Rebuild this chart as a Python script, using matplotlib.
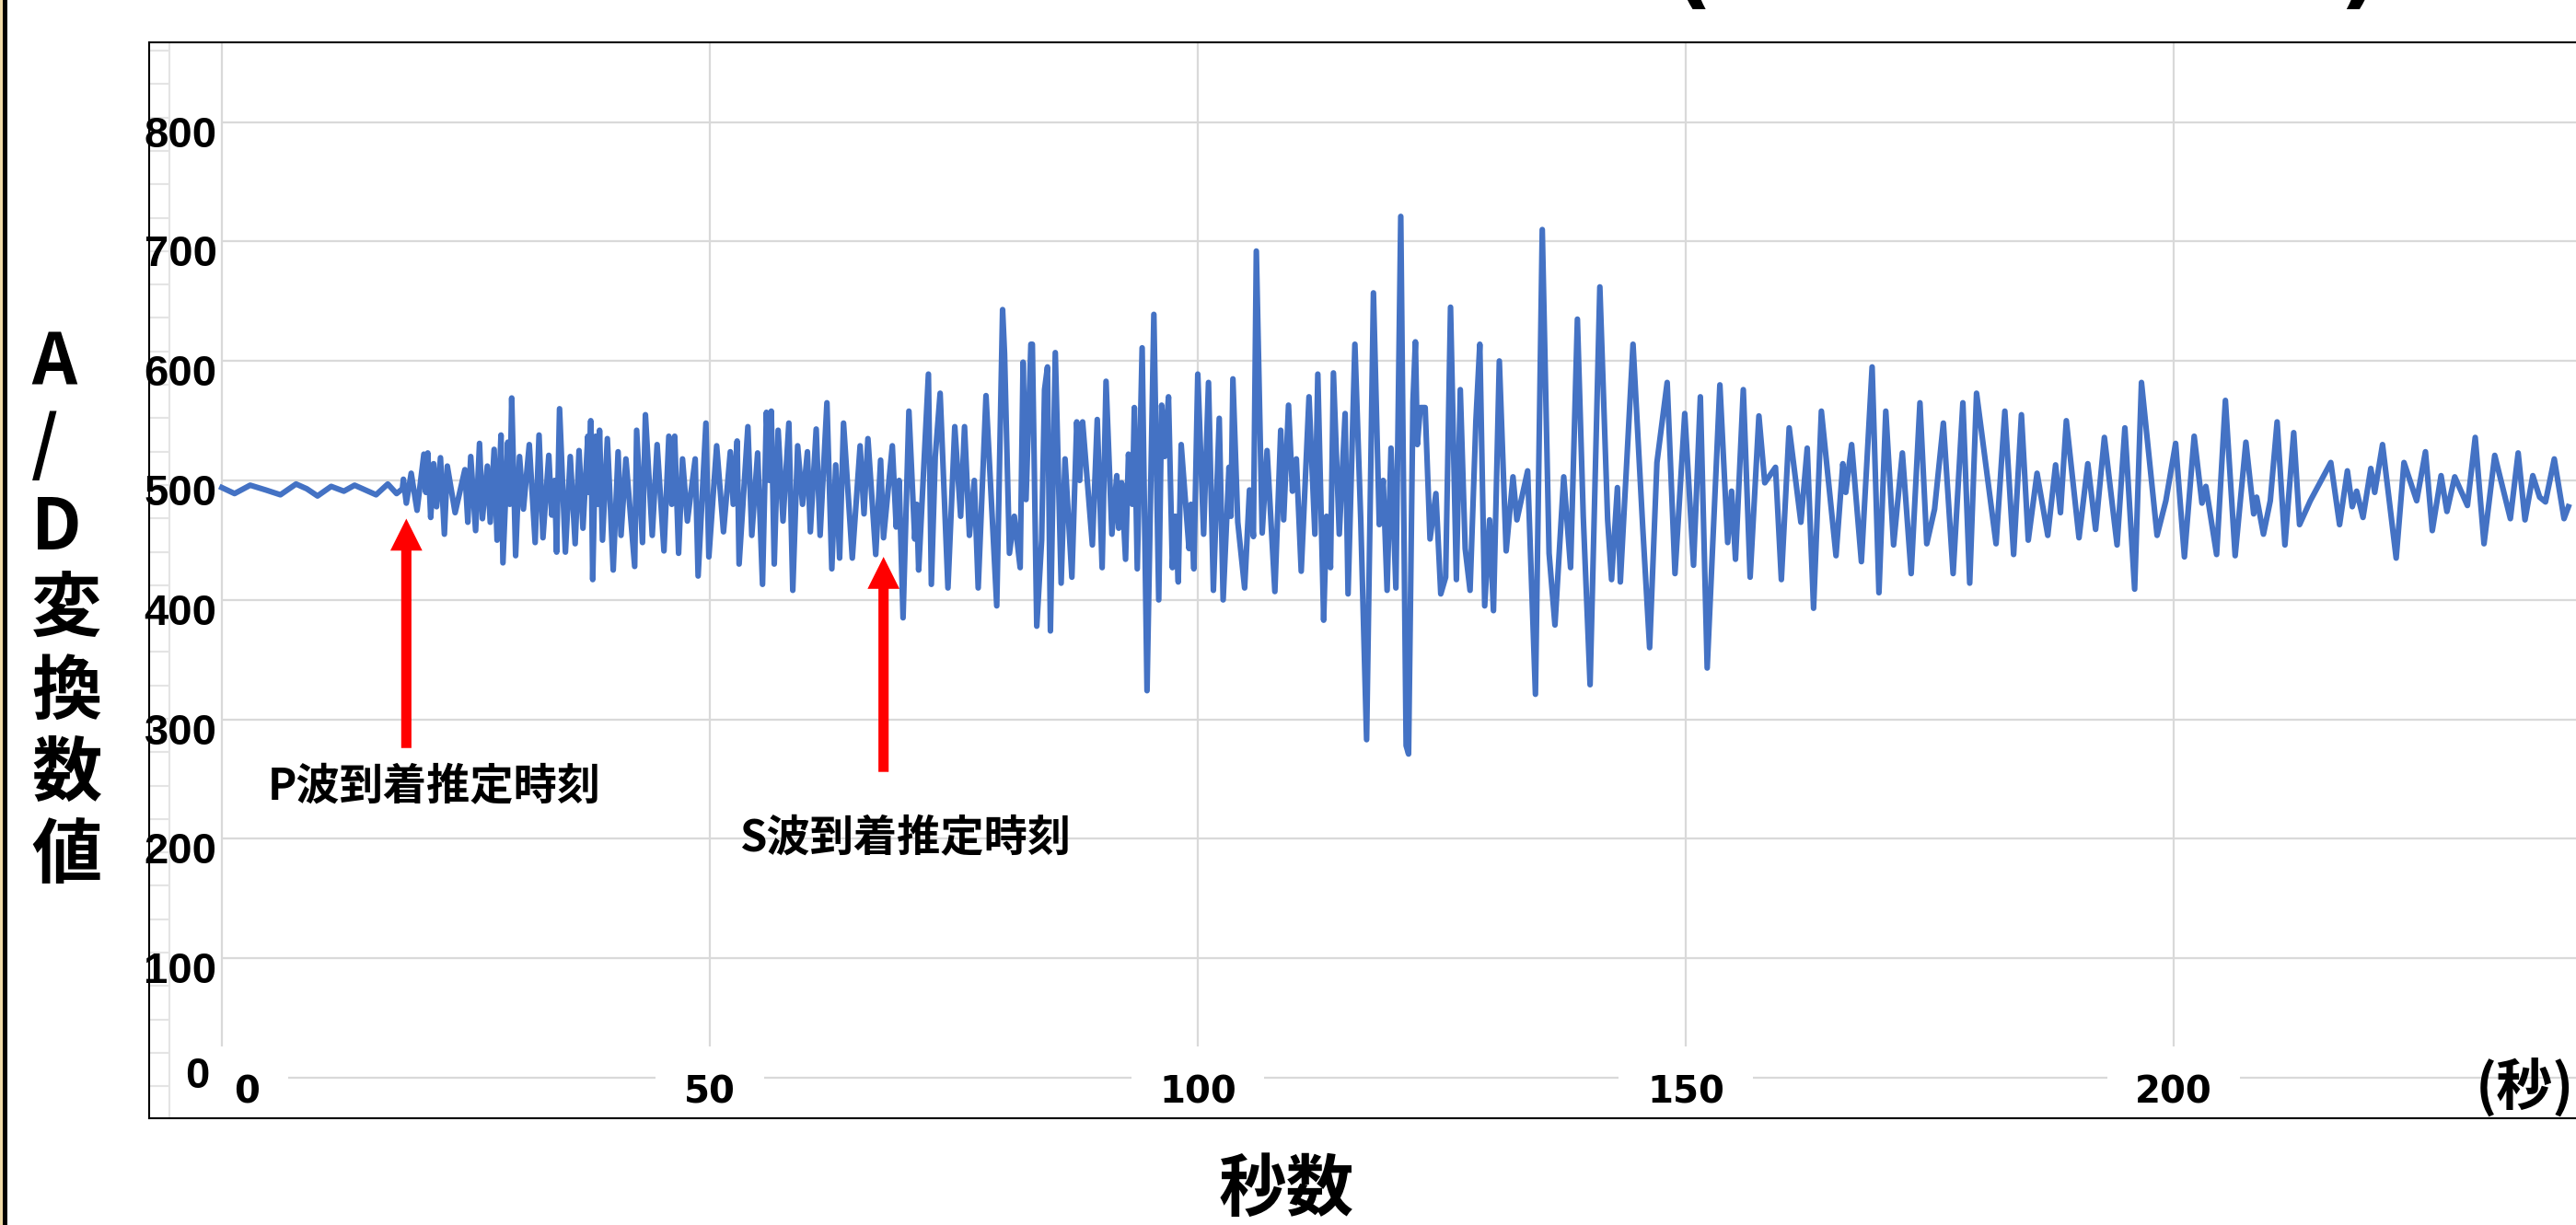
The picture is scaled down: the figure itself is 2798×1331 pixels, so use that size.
"""Seismograph trace (A/D converter counts vs seconds) with estimated P/S wave arrival markers."""
import numpy as np
import matplotlib.pyplot as plt
from matplotlib.patches import Rectangle
from matplotlib.transforms import ScaledTranslation

# --- data (turning points of the trace) ---
TIME_S = [
    0, 1.3, 2.9, 4.5, 6.0, 7.6, 8.7, 9.8, 11.2, 12.5, 13.6, 14.7, 15.8, 17.0, 17.9, 18.5,
    18.6, 18.9, 19.4, 20.0, 20.7, 20.9, 21.1, 21.4, 21.7, 22.0, 22.4, 22.8, 23.1, 23.9,
    24.9, 25.2, 25.5, 26.0, 26.4, 26.7, 27.2, 27.5, 27.9, 28.2, 28.6, 28.8, 29.3, 29.5,
    29.7, 30.1, 30.5, 30.9, 31.5, 32.1, 32.5, 32.9, 33.5, 33.8, 34.1, 34.3, 34.6, 35.2,
    35.7, 36.2, 36.6, 37.0, 37.5, 37.6, 37.8, 38.0, 38.3, 38.5, 38.7, 39.0, 39.5, 40.1,
    40.6, 40.9, 41.4, 42.3, 42.5, 43.1, 43.4, 44.1, 44.6, 45.3, 45.8, 46.1, 46.4, 46.8,
    47.2, 47.7, 48.5, 48.8, 49.6, 49.9, 50.7, 51.4, 52.1, 52.4, 52.8, 53.0, 53.9, 54.3,
    54.9, 55.4, 55.8, 56.1, 56.3, 56.6, 57.0, 57.5, 58.1, 58.5, 59.0, 59.5, 60.0, 60.3,
    60.9, 61.3, 62.0, 62.5, 62.9, 63.3, 63.7, 64.6, 65.4, 65.8, 66.2, 67.0, 67.5, 67.8,
    68.7, 69.1, 69.4, 69.8, 70.4, 71.0, 71.2, 71.4, 72.4, 72.7, 73.1, 73.6, 74.4, 75.1,
    75.7, 76.1, 76.6, 77.1, 77.5, 78.3, 79.4, 80.0, 80.2, 80.7,
    81.2, 81.8, 82.1, 82.4, 82.9, 83.05, 83.5, 84.0, 84.3, 84.6, 84.9, 85.4, 86.0, 86.4,
    87.1, 87.6, 87.9, 88.2, 89.2, 89.7, 90.2, 90.6, 91.2, 91.7, 91.9, 92.2, 92.6, 92.9,
    93.3, 93.5, 93.8, 94.3, 94.8, 95.5, 96.0, 96.3, 96.6, 97.0, 97.4, 97.7, 98.0, 98.3,
    99.1, 99.3, 99.6, 100.0, 100.6, 101.1, 101.6, 102.2, 102.6, 103.2, 103.4, 103.6,
    104.1, 104.8, 105.3, 105.7, 106.0, 106.6, 107.1, 107.9, 108.5, 108.8, 109.3, 109.7,
    110.1, 110.6, 111.4, 112.0, 112.3, 112.9, 113.2, 113.6, 113.9, 114.5, 115.1, 115.4,
    116.1, 116.7, 117.3, 118.0, 118.6, 119.0, 119.4, 119.8, 120.3, 120.8, 121.35,
    121.6, 122.05, 122.3, 122.5, 122.8, 123.3, 123.8, 124.4, 124.9, 125.4, 125.9, 126.5,
    126.9, 127.4, 127.9, 128.5, 128.9, 129.4, 129.9, 130.3, 130.9, 131.6, 132.3, 132.7,
    133.8, 134.6, 135.3, 136.0, 136.6, 137.5, 138.2, 138.9, 139.5, 140.2, 141.2, 142.0,
    142.4, 143.0, 143.3, 144.6, 145.6, 146.3, 147.05, 148.1, 148.9, 149.9, 150.8, 151.5,
    152.2, 153.5, 154.3, 154.7, 155.1, 155.9, 156.6, 157.5, 158.1, 159.2, 159.8, 160.6,
    161.8, 162.45, 163.1, 163.9, 165.4, 166.1, 166.4, 167.0, 168.0, 169.1, 169.8, 170.5,
    171.3, 172.2, 173.1, 174.0, 174.7, 175.5, 176.4, 177.4, 178.4, 179.1, 179.8, 181.8,
    182.7, 183.6, 184.4, 185.1, 186.0, 187.1, 187.9, 188.4, 189.0, 190.3, 191.2, 192.0,
    192.9, 194.2, 195.0, 196.0, 196.7, 198.3, 199.2, 200.2, 201.1, 202.1,
    202.9, 203.3, 204.4, 205.3, 206.3, 207.4, 208.2, 208.5, 209.2, 209.9, 210.6, 211.4,
    212.3, 212.9, 214.0, 216.1, 217.0, 217.8, 218.3, 218.75, 219.4, 220.2, 220.6, 221.4,
    222.8, 223.6, 224.9, 225.8, 226.5, 227.4, 228.0, 228.8, 230.1, 230.9, 231.8, 232.9,
    234.5, 235.3, 236.0, 236.8, 237.5, 238.1, 239.0, 240.0, 240.45,
]
AD_VALUE = [
    494, 489, 496, 492, 488, 497, 493, 487, 495, 491, 496, 492, 488, 497, 489, 493,
    501, 481, 506, 475, 522, 490, 523, 469, 514, 478, 519, 455, 512, 473,
    509, 465, 520, 458, 531, 468, 512, 465, 526, 450, 538, 431, 532, 480,
    569, 437, 520, 476, 530, 448, 538, 452, 521, 471, 500, 440, 560, 440,
    520, 447, 525, 460, 537, 490, 550, 417, 537, 480, 542, 450, 535, 425,
    524, 454, 518, 428, 542, 448, 555, 454, 530, 441, 537, 480, 537, 439,
    518, 466, 518, 420, 548, 436, 529, 457, 524, 480, 533, 430, 545, 454,
    523, 413, 557, 500, 558, 430, 542, 466, 548, 408, 529, 480, 524, 457,
    543, 454, 565, 426, 513, 435, 548, 435, 529, 472, 535, 438, 517, 452,
    529, 461, 500, 385, 558, 451, 480, 425, 589, 413, 520, 573, 410, 545,
    470, 545, 454, 500, 410, 571, 395, 643, 606, 439,
    470, 427, 599, 484, 614, 614, 378, 450, 576, 595, 374, 607, 414, 518,
    419, 549, 500, 549, 446, 551, 427, 583, 455, 504, 460, 498, 434, 522,
    480, 561, 426, 611, 324, 639, 400, 563, 520, 570, 427, 470, 415, 530,
    443, 480, 426, 589, 455, 582, 408, 552, 400, 511, 470, 585,
    465, 410, 492, 453, 692, 456, 525, 407, 542, 467, 563, 491,
    518, 424, 570, 455, 589, 383, 470, 427, 590, 455, 556, 405,
    614, 467, 283, 657, 463, 500, 408, 527, 410, 721, 278,
    271, 566, 616, 530, 561, 561, 451, 489, 405, 419, 645, 417,
    576, 443, 408, 550, 614, 395, 467, 391, 600, 441, 503, 467,
    508, 321, 710, 439, 379, 503, 427, 635, 470, 329, 662, 467,
    417, 494, 415, 614, 460, 360, 515, 582, 422, 556, 429, 570,
    343, 580, 448, 491, 434, 576, 419, 554, 498, 511, 417, 544,
    465, 527, 393, 558, 437, 514, 490, 530, 432, 595, 406, 558,
    446, 523, 422, 565, 447, 476, 548, 422, 565, 414, 573, 447,
    558, 438, 555, 450, 506, 454, 513, 473, 550, 452, 514, 459,
    536, 446, 544, 409, 582, 454, 483, 531, 436, 537,
    481, 495, 438, 567, 437, 532, 472, 486, 455, 483, 549, 446,
    540, 463, 483, 515, 463, 508, 478, 491, 469, 510, 490, 530,
    435, 515, 483, 524, 458, 504, 474, 503, 479, 536, 447, 521,
    468, 523, 467, 504, 486, 482, 518, 468, 478,
]

Y_TICKS = [0, 100, 200, 300, 400, 500, 600, 700, 800]
X_TICKS = [0, 50, 100, 150, 200]

P_ARRIVAL = 18.9      # estimated P-wave arrival [s]
S_ARRIVAL = 67.8      # estimated S-wave arrival [s]

LINE_COLOR = "#4472C4"
GRID_COLOR = "#D9D9D9"
CJK = ["Noto Sans CJK JP", "DejaVu Sans"]

W, H, DPI = 2798, 1331, 100


def fx(px):
    return px / W


def fy(px):
    return 1 - px / H


fig = plt.figure(figsize=(W / DPI, H / DPI), dpi=DPI)

# plot frame: pixel geometry of the original Excel chart
ax = fig.add_axes([fx(162), fy(1215), 1 - fx(162), (1215 - 46) / H])
sec_px, x0_px = 10.6, 241          # px per second, px of t=0
val_px, y0_px = 1.298, 1171        # px per count, px of value 0
xmin, xmax = (162 - x0_px) / sec_px, (W - x0_px) / sec_px
ymin, ymax = (y0_px - 1215) / val_px, (y0_px - 46) / val_px
ax.set_xlim(xmin, xmax)
ax.set_ylim(ymin, ymax)

ax.hlines(Y_TICKS, 0, xmax, colors=GRID_COLOR, lw=1.6, zorder=0.5)
ax.vlines(X_TICKS, 0, ymax, colors=GRID_COLOR, lw=1.6, zorder=0.5)

# faint strip left of the value axis (left over from the spreadsheet)
strip_x = (184 - x0_px) / sec_px
ax.vlines(strip_x, ymin, ymax, colors="#E4E4E4", lw=1.5, zorder=0.4)
strip_y = (y0_px - np.arange(55, 1190, 36.3)) / val_px
ax.hlines(strip_y, xmin, strip_x, colors="#E4E4E4", lw=1.5, zorder=0.4)

ax.plot(TIME_S, AD_VALUE, color=LINE_COLOR, lw=4.4, solid_joinstyle="round", zorder=3)

for side in ("top", "left", "bottom"):
    ax.spines[side].set_color("black")
    ax.spines[side].set_linewidth(1.5)
ax.spines["right"].set_visible(False)

ax.set_yticks(Y_TICKS)
ax.set_yticklabels([str(v) for v in Y_TICKS], fontsize=34, fontweight="bold",
                   fontfamily="Liberation Sans")
ax.tick_params(axis="y", length=0, pad=-53)
for v, lbl in zip(Y_TICKS, ax.get_yticklabels()):
    dx, dy = (-8, 6) if v == 0 else (0, -10)
    lbl.set_transform(lbl.get_transform() + ScaledTranslation(dx / DPI, dy / DPI, fig.dpi_scale_trans))

ax.set_xticks(X_TICKS)
ax.set_xticklabels([str(v) for v in X_TICKS], fontsize=29, fontweight="bold",
                   fontfamily="DejaVu Sans")
ax.tick_params(axis="x", length=0, pad=-34)
for v, lbl in zip(X_TICKS, ax.get_xticklabels()):
    lbl.set_bbox(dict(facecolor="white", edgecolor="none", pad=22))
    if v == 0:
        lbl.set_transform(lbl.get_transform() + ScaledTranslation(27 / DPI, 0, fig.dpi_scale_trans))

# arrival markers
arrow_kw = dict(facecolor="#FF0000", edgecolor="none", width=8, headwidth=25, headlength=25, shrink=0)
ax.annotate("", xy=(P_ARRIVAL, 468), xytext=(P_ARRIVAL, 276), arrowprops=arrow_kw, zorder=4)
ax.annotate("", xy=(S_ARRIVAL, 436), xytext=(S_ARRIVAL, 256), arrowprops=arrow_kw, zorder=4)
ax.text(4.7, 244, "P波到着推定時刻", fontsize=34, fontweight="bold", family=CJK,
        ha="left", va="center")
ax.text(53.0, 201, "S波到着推定時刻", fontsize=34, fontweight="bold", family=CJK,
        ha="left", va="center")

# axis titles
for i, ch in enumerate("A/D変換数値"):
    fig.text(fx(34), fy(396 + 89 * i), ch, fontsize=55, fontweight="bold", family=CJK,
             ha="left", va="center")
fig.text(fx(1397), fy(1294), "秒数", fontsize=53, fontweight="bold", family=CJK,
         ha="center", va="center")
fig.text(fx(2796), fy(1183), "(秒)", fontsize=44, fontweight="bold", family=CJK,
         ha="right", va="center")

# bottoms of the cut-off chart title's brackets
fig.text(fx(1838), fy(-3), "(", fontsize=70, fontweight="bold", ha="center", va="baseline")
fig.text(fx(2562), fy(-3), ")", fontsize=70, fontweight="bold", ha="center", va="baseline")

# page border on the left edge
fig.add_artist(Rectangle((0, 0), fx(3), 1, transform=fig.transFigure, color="#EFD9A6", lw=0))
fig.add_artist(Rectangle((fx(3), 0), fx(5), 1, transform=fig.transFigure, color="black", lw=0))

fig.savefig("out.png", dpi=DPI)
